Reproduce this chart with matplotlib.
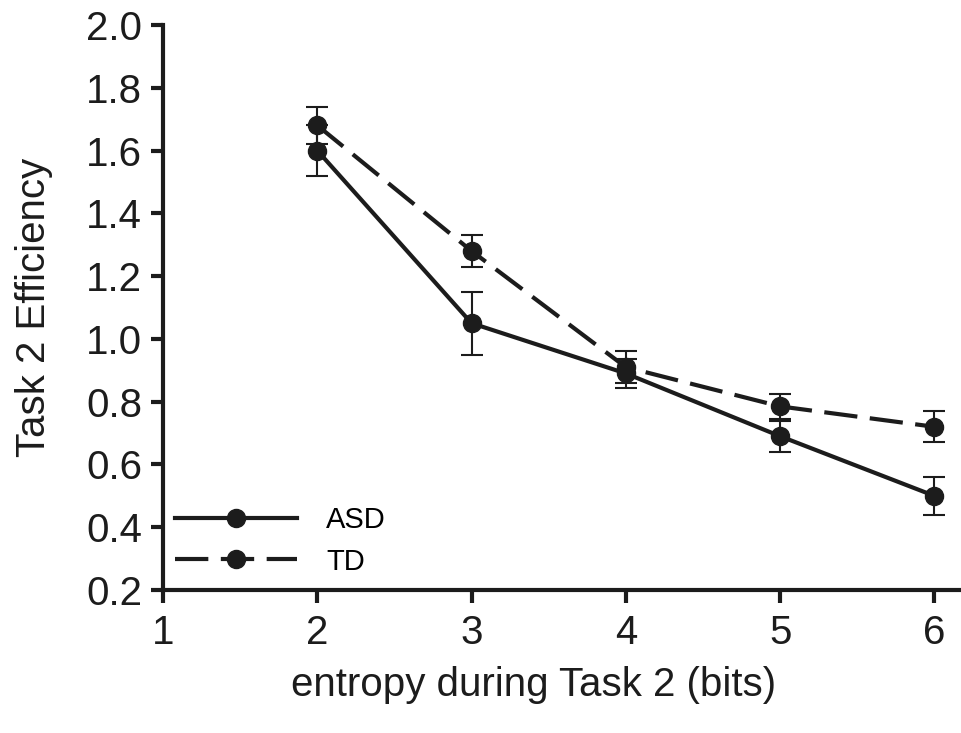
import numpy as np
import matplotlib.pyplot as plt
from matplotlib.lines import Line2D

plt.rcParams['font.family'] = ['Liberation Sans', 'DejaVu Sans']

# --- data ---
entropy = [2, 3, 4, 5, 6]
asd_eff = [1.60, 1.05, 0.89, 0.69, 0.50]
asd_err = [0.08, 0.10, 0.045, 0.05, 0.06]
td_eff = [1.68, 1.28, 0.91, 0.785, 0.72]
td_err = [0.06, 0.05, 0.05, 0.04, 0.05]
yticks = [0.2, 0.4, 0.6, 0.8, 1.0, 1.2, 1.4, 1.6, 1.8, 2.0]

INK = '#1c1c1c'
DASH = (8, 3)

fig = plt.figure(figsize=(9.61, 7.33), dpi=100)
ax = fig.add_axes([0.1696, 0.195, 0.83, 0.771])

ax.errorbar(entropy, asd_eff, yerr=asd_err, color=INK, lw=3, marker='o', ms=13,
            ecolor=INK, elinewidth=1.5, capsize=8, capthick=1.5)
ax.errorbar(entropy, td_eff, yerr=td_err, color=INK, lw=3, marker='o', ms=13,
            ecolor=INK, elinewidth=1.5, capsize=8, capthick=1.5, dashes=DASH)

ax.set_xlim(1, 6.17)
ax.set_ylim(0.2, 2.0)
ax.set_xticks([1, 2, 3, 4, 5, 6])
ax.set_yticks(yticks)
ax.set_yticklabels([f'{v:.1f}' for v in yticks])

for s in ['top', 'right']:
    ax.spines[s].set_visible(False)
for s in ['left', 'bottom']:
    ax.spines[s].set_linewidth(3)
    ax.spines[s].set_color(INK)
ax.tick_params(direction='out', length=9, width=3, colors=INK, labelsize=29)
ax.tick_params(axis='y', pad=6)
ax.tick_params(axis='x', pad=8)

ax.set_xlabel('entropy during Task 2 (bits)', fontsize=29, color=INK)
ax.xaxis.set_label_coords(0.465, -0.135)
ax.set_ylabel('Task 2 Efficiency', fontsize=29, color=INK)
ax.yaxis.set_label_coords(-0.138, 0.5)

handles = [Line2D([], [], color=INK, lw=3, marker='o', ms=13),
           Line2D([], [], color=INK, lw=3, marker='o', ms=13, dashes=DASH)]
ax.legend(handles, ['ASD', 'TD'], loc='lower left', frameon=False, fontsize=21,
          handlelength=4.2, handletextpad=1.0, labelspacing=0.45,
          borderaxespad=0.0, bbox_to_anchor=(0.0, 0.005))

fig.savefig('out.png', dpi=100)
